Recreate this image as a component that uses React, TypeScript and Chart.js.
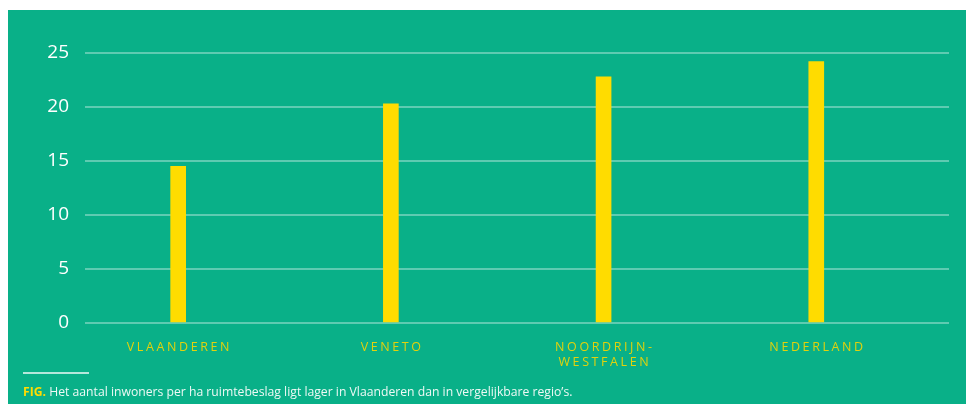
import React, { useEffect, useRef } from "react";
import { Chart, registerables } from "chart.js";

Chart.register(...registerables);

const categories: (string | string[])[] = [
  "VLAANDEREN",
  "VENETO",
  ["NOORDRIJN-", "WESTFALEN"],
  "NEDERLAND",
];
const inhabitantsPerHa: number[] = [14.5, 20.3, 22.8, 24.2];
const yTicks: number[] = [0, 5, 10, 15, 20, 25];
const captionLead = "FIG.";
const captionText = " Het aantal inwoners per ha ruimtebeslag ligt lager in Vlaanderen dan in vergelijkbare regio’s.";

const BG = "#09b088";
const YELLOW = "#ffdc00";
const LABEL_YELLOW = "#e2d20c";
const FONT = "'Open Sans', 'Noto Sans', sans-serif";

const xLabelPlugin = {
  id: "xLabels",
  afterDraw(chart: any) {
    const ctx = chart.ctx as CanvasRenderingContext2D;
    const xs = chart.scales.x;
    const bottom = chart.chartArea.bottom;
    ctx.save();
    ctx.font = `400 12.5px ${FONT}`;
    (ctx as any).letterSpacing = "2.6px";
    ctx.fillStyle = LABEL_YELLOW;
    ctx.textAlign = "center";
    ctx.textBaseline = "middle";
    categories.forEach((cat, i) => {
      const lines = Array.isArray(cat) ? cat : [cat];
      const x = xs.getPixelForValue(i) + 1.3;
      lines.forEach((ln, j) => {
        ctx.fillText(ln, x, bottom + 24 + j * 15);
      });
    });
    ctx.restore();
  },
};

function BarChart() {
  const ref = useRef<HTMLCanvasElement | null>(null);
  useEffect(() => {
    if (!ref.current) return;
    const chart = new Chart(ref.current, {
      type: "bar",
      data: {
        datasets: [
          {
            data: inhabitantsPerHa.map((v, i) => ({ x: i, y: v })),
            backgroundColor: YELLOW,
            borderWidth: 0,
            barThickness: 15,
          },
        ],
      },
      options: {
        animation: false,
        responsive: false,
        devicePixelRatio: 1,
        layout: { padding: { top: 43, left: 0, right: 17, bottom: 81 } },
        plugins: { legend: { display: false }, tooltip: { enabled: false } },
        scales: {
          x: {
            type: "linear",
            offset: false,
            min: -0.438,
            max: 3.624,
            grid: { display: false },
            border: { display: false },
            ticks: { display: false },
            afterFit: (s: any) => {
              s.height = 0;
            },
          },
          y: {
            min: 0,
            max: 25,
            afterBuildTicks: (s: any) => {
              s.ticks = yTicks.map((v) => ({ value: v }));
            },
            grid: {
              color: "rgba(255,255,255,0.35)",
              lineWidth: 2,
              drawTicks: false,
            },
            border: { display: false },
            ticks: {
              color: "#ffffff",
              padding: 16,
              font: { family: FONT, size: 19, weight: 400 as any },
            },
            afterFit: (s: any) => {
              s.width = 77;
            },
          },
        },
      },
      plugins: [xLabelPlugin],
    });
    return () => chart.destroy();
  }, []);
  return <canvas ref={ref} width={958} height={394} style={{ display: "block" }} />;
}

export default function App() {
  return (
    <div
      style={{
        position: "fixed",
        left: 8,
        top: 10,
        width: 958,
        height: 394,
        background: BG,
        overflow: "hidden",
      }}
    >
      <BarChart />
      <div
        style={{
          position: "absolute",
          left: 15,
          top: 362,
          width: 66,
          height: 2,
          background: "rgba(255,255,255,0.7)",
        }}
      />
      <div
        style={{
          position: "absolute",
          left: 15,
          top: 373,
          fontFamily: FONT,
          fontSize: 12.2,
          lineHeight: "18px",
          color: "#eef9f5",
          whiteSpace: "nowrap",
        }}
      >
        <span style={{ color: YELLOW, fontWeight: 700 }}>{captionLead}</span>
        {captionText}
      </div>
    </div>
  );
}
